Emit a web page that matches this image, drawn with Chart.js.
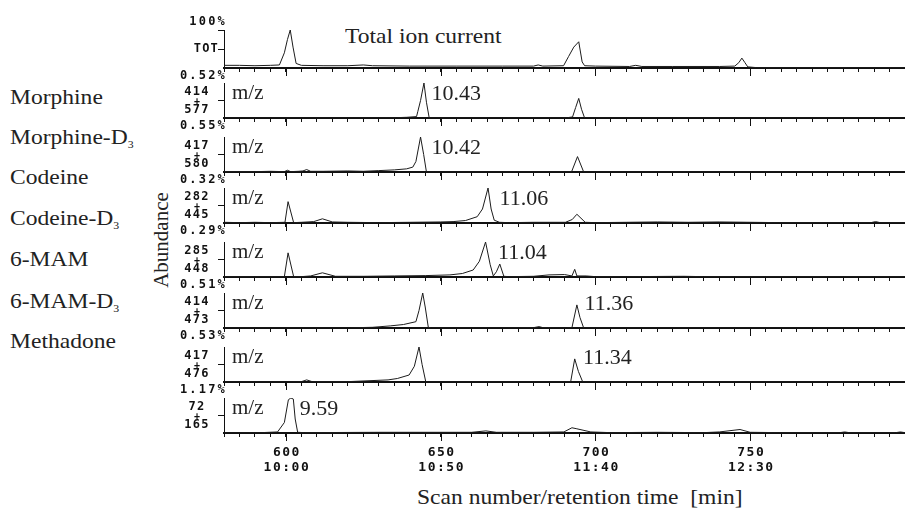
<!DOCTYPE html>
<html>
<head>
<meta charset="utf-8">
<script src="https://cdn.jsdelivr.net/npm/chart.js@4.4.1/dist/chart.umd.min.js"></script>
<style>
  body { margin: 0; background: #fff; }
  #wrap { position: relative; width: 905px; height: 513px; overflow: hidden; font-family: "Liberation Serif", "Times New Roman", serif; color: #222; }
  #wrap canvas { position: absolute; left: 150px; }
  .txt { position: absolute; font-size: 22px; line-height: 22px; white-space: nowrap; transform-origin: left center; transform: scaleX(1.07); }
  .txt sub { font-size: 11px; vertical-align: -4px; line-height: 0; }
  #abund { position: absolute; left: 161px; top: 240px; font-size: 21px; line-height: 22px; white-space: nowrap; transform: translate(-50%, -50%) rotate(-90deg); }
</style>
</head>
<body>
<div id="wrap">
  <div class="txt" style="left:345px; top:25px;">Total ion current</div>
  <div class="txt" style="left:10px; top:86px;">Morphine</div>
  <div class="txt" style="left:10px; top:126px;">Morphine-D<sub>3</sub></div>
  <div class="txt" style="left:10px; top:166px;">Codeine</div>
  <div class="txt" style="left:10px; top:207px;">Codeine-D<sub>3</sub></div>
  <div class="txt" style="left:10px; top:248px;">6-MAM</div>
  <div class="txt" style="left:10px; top:290px;">6-MAM-D<sub>3</sub></div>
  <div class="txt" style="left:10px; top:330px;">Methadone</div>
  <div id="abund">Abundance</div>
  <div class="txt" style="left:417px; top:486px;">Scan number/retention time&nbsp; [min]</div>
</div>
<script>
// x range (scan numbers) and axis labels
const scanMin = 580;
const scanMax = 800;
const majorTicks = [600, 650, 700, 750];
const timeLabels = ['10:00', '10:50', '11:40', '12:30'];

// y labels per trace (ion pair), top / bottom percentages
const ionLabels = [['TOT'], ['414', '+', '577'], ['417', '+', '580'], ['282', '+', '445'],
                   ['285', '+', '448'], ['414', '+', '473'], ['417', '+', '476'], ['72', '+', '165']];
const topLabels = ['100%', '', '', '', '', '', '', ''];
const minLabels = ['0.52%', '0.55%', '0.32%', '0.29%', '0.51%', '0.53%', '1.17%', ''];

// retention time labels of the marked peaks and the scan where the text starts
const peakTimes = ['', '10.43', '10.42', '11.06', '11.04', '11.36', '11.34', '9.59'];
const peakLabelScan = [0, 647, 647, 669, 668.5, 696.5, 696, 604.5];

// traces: scan number / relative abundance (%)
const totScan = [580, 585, 590, 595, 597.9, 599.5, 600.5, 601.4, 602.3, 603.3, 605, 612, 620, 625, 628, 640, 655, 670, 680, 681.5, 683, 689.7, 691.3, 693, 694.6, 695.7, 696.5, 700, 711, 713, 715, 725, 740, 745, 746.3, 747.3, 748.3, 749.2, 752, 770, 800];
const totAbund = [7, 7, 6, 7, 8, 40, 75, 100, 55, 12, 7, 6, 6, 8, 6, 5, 5, 5, 5, 8, 5, 6, 30, 55, 69, 16, 6, 5, 4, 7, 4, 4, 4, 5, 14, 26, 14, 3, 1, 1, 1];

const morScan = [580, 600, 620, 630, 635.8, 639, 642.2, 642.6, 643.5, 644.6, 645.4, 646.3, 650, 670, 689, 691, 692.6, 693.6, 694.6, 695.5, 696.5, 700, 750, 800];
const morAbund = [0, 0, 0, 0.5, 1, 2, 4, 18, 50, 100, 45, 0, 0, 0, 0, 1, 3, 30, 56, 25, 0, 0, 0, 0];

const morDScan = [580, 590, 595, 599.5, 600.5, 601.5, 604, 605.5, 606.7, 608, 612, 620, 625, 630, 635, 639, 641, 642, 643.5, 644.5, 645.4, 648, 670, 690, 692.3, 694.2, 696.2, 700, 780, 800];
const morDAbund = [1, 1, 2, 1, 5, 1, 2, 3, 7, 2, 2, 3, 2, 4, 6, 9, 14, 30, 100, 50, 0, 0, 0, 0, 1, 44, 0, 0, 0, 0];

const codScan = [580, 585, 590, 595, 599.7, 600.7, 602.5, 605, 609, 611.8, 615, 620, 630, 640, 650, 654, 658, 661.8, 663.5, 665.3, 666.3, 667.3, 669, 672, 680, 690.3, 692.5, 694, 696.7, 700, 710, 720, 730, 740, 760, 789, 790.5, 792, 800];
const codAbund = [2, 1, 2, 1, 2, 61, 1, 2, 4, 12, 3, 2, 1, 2, 3, 4, 7, 18, 40, 100, 40, 8, 2, 1, 2, 2, 10, 25, 2, 1, 2, 3, 2, 3, 1, 1, 4, 1, 1];

const codDScan = [580, 590, 599.5, 600.7, 602.5, 605, 608, 611.8, 616, 625, 635, 645, 653, 657, 660.5, 662.5, 664.5, 666, 667, 668, 669.1, 670.4, 672, 680, 685, 690, 692.4, 693.3, 694, 697, 700, 710, 728.6, 735, 800];
const codDAbund = [1, 1, 1, 69, 1, 1, 3, 12, 2, 2, 3, 4, 6, 10, 20, 45, 100, 35, 3, 15, 37, 2, 1, 2, 6, 7, 3, 22, 3, 3, 1, 1, 2, 1, 1];

const mamScan = [580, 620, 623, 628, 633.7, 638, 642, 643, 644.2, 645, 646, 647, 660, 680, 681.8, 683, 690, 692.4, 694, 695, 696.2, 700, 800];
const mamAbund = [0, 0, 1, 2, 6, 10, 18, 50, 100, 60, 2, 0, 0, 1, 4, 1, 0, 1, 66, 30, 0, 0, 0];

const mamDScan = [580, 600, 605, 606.7, 608.5, 620, 633, 636, 639.8, 641.5, 643, 644, 645.2, 660, 690, 692, 693.3, 694.5, 695.9, 700, 800];
const mamDAbund = [0, 0, 1, 6, 1, 1, 6, 10, 20, 45, 100, 50, 0, 0, 0, 1, 66, 30, 0, 0, 0];

const metScan = [580, 592, 597.3, 599.5, 600.8, 601.6, 602.4, 603, 603.8, 606, 630, 660, 664.6, 668, 680, 689.8, 692.4, 694, 698.5, 705, 720, 735, 740, 746.7, 750, 760, 779, 780.5, 782, 797, 798.5, 800];
const metAbund = [0, 1, 3, 30, 95, 100, 97, 40, 2, 1, 2, 2, 6, 2, 2, 3, 15, 12, 3, 1, 2, 1, 3, 10, 2, 1, 1, 3, 1, 1, 3, 1];

const traceScans = [totScan, morScan, morDScan, codScan, codDScan, mamScan, mamDScan, metScan];
const traceAbunds = [totAbund, morAbund, morDAbund, codAbund, codDAbund, mamAbund, mamDAbund, metAbund];

// layout: top of each y axis and its baseline (page px)
const panelTops = [30, 83, 137, 188, 242, 293, 347, 398];
const panelBases = [68, 118, 172, 223, 277, 328, 382, 433];
const padTop = 20;
const yAxisWidth = 74;

const minorTicks = [];
for (let v = scanMin; v <= scanMax; v += 5) minorTicks.push(v);

const MONO = '"DejaVu Sans Mono", "Liberation Mono", monospace';
const SERIF = '"Liberation Serif", "Times New Roman", serif';
const INK = '#111';

const panelText = {
  id: 'panelText',
  afterDraw(chart, args, opts) {
    const i = opts.index;
    const ctx = chart.ctx;
    const a = chart.chartArea;
    const x = chart.scales.x;
    const y = chart.scales.y;
    ctx.save();

    // longer ticks at the labelled scans
    ctx.strokeStyle = INK;
    ctx.lineWidth = 1;
    majorTicks.forEach(v => {
      const px = Math.round(x.getPixelForValue(v)) + 0.5;
      ctx.beginPath();
      ctx.moveTo(px, a.bottom);
      ctx.lineTo(px, a.bottom + 8);
      ctx.stroke();
    });

    // ion labels on the y axis
    ctx.fillStyle = INK;
    ctx.textBaseline = 'middle';
    const mid = y.getPixelForValue(50);
    const lab = ionLabels[i];
    ctx.font = 'bold 12px ' + MONO;
    ctx.letterSpacing = '1.2px';
    if (lab.length === 1) {
      ctx.textAlign = 'right';
      ctx.fillText(lab[0], a.left - 5, mid);
    } else {
      ctx.textAlign = 'center';
      const cx = a.left - 27;
      ctx.fillText(lab[0], cx, mid - 9);
      ctx.fillText(lab[2], cx, mid + 9);
      ctx.font = 'bold 10px ' + MONO;
      ctx.letterSpacing = '0px';
      ctx.fillText(lab[1], cx, mid + 1);
    }

    // percentage range labels
    ctx.font = 'bold 12px ' + MONO;
    ctx.letterSpacing = '2.2px';
    ctx.textAlign = 'right';
    if (topLabels[i]) ctx.fillText(topLabels[i], a.left + 3, a.top - 8);
    if (minLabels[i]) ctx.fillText(minLabels[i], a.left + 3, a.bottom + 8);

    // scan / time labels under the last trace
    if (i === panelTops.length - 1) {
      ctx.font = 'bold 13px ' + MONO;
      ctx.letterSpacing = '1.5px';
      ctx.textAlign = 'center';
      majorTicks.forEach((v, k) => {
        const px = x.getPixelForValue(v) + 1;
        ctx.fillText(String(v), px, a.bottom + 20);
        ctx.fillText(timeLabels[k], px, a.bottom + 35);
      });
    }

    // m/z and retention time of the peak
    ctx.letterSpacing = '0px';
    ctx.fillStyle = '#222';
    ctx.textAlign = 'left';
    if (i > 0) {
      ctx.font = '21px ' + SERIF;
      ctx.fillText('m/z', a.left + 8, a.top + 10);
      ctx.font = '22px ' + SERIF;
      ctx.fillText(peakTimes[i], x.getPixelForValue(peakLabelScan[i]), a.top + 11);
    }
    ctx.restore();
  }
};

const wrap = document.getElementById('wrap');
panelTops.forEach((top, i) => {
  const last = i === panelTops.length - 1;
  const bottomSpace = last ? 60 : 16;
  const h = panelBases[i] - top;
  const cv = document.createElement('canvas');
  cv.width = 755;
  cv.height = padTop + h + bottomSpace;
  cv.style.top = (top - padTop) + 'px';
  wrap.appendChild(cv);

  new Chart(cv, {
    type: 'line',
    data: {
      datasets: [{
        data: traceScans[i].map((s, k) => ({ x: s, y: traceAbunds[i][k] })),
        borderColor: '#1c1c1c',
        borderWidth: 1,
        pointRadius: 0,
        tension: 0,
        fill: false
      }]
    },
    options: {
      responsive: false,
      animation: false,
      devicePixelRatio: 1,
      layout: { padding: { top: padTop, left: 0, right: 0, bottom: 0 } },
      plugins: {
        legend: { display: false },
        tooltip: { enabled: false },
        panelText: { index: i }
      },
      scales: {
        x: {
          type: 'linear',
          min: scanMin,
          max: scanMax,
          afterBuildTicks: s => { s.ticks = minorTicks.map(v => ({ value: v })); },
          afterFit: s => { s.height = bottomSpace; },
          ticks: { display: false },
          grid: { display: true, drawOnChartArea: false, drawTicks: true, tickLength: 4, tickColor: INK, tickWidth: 1 },
          border: { display: true, color: INK, width: 2 }
        },
        y: {
          min: 0,
          max: 100,
          afterBuildTicks: s => { s.ticks = (i === 0 ? [50, 100] : [50]).map(v => ({ value: v })); },
          afterFit: s => { s.width = yAxisWidth; },
          ticks: { display: false },
          grid: { display: true, drawOnChartArea: false, drawTicks: true, tickLength: 6, tickColor: INK, tickWidth: 1 },
          border: { display: true, color: INK, width: 1 }
        }
      }
    },
    plugins: [panelText]
  });
});
</script>
</body>
</html>
